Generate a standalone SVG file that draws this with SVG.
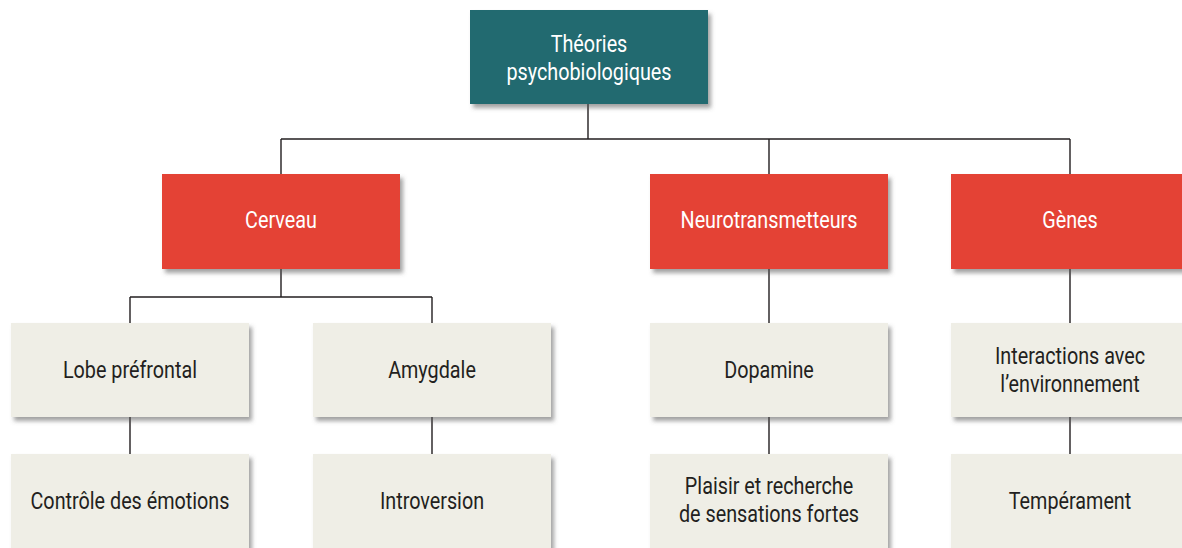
<svg xmlns="http://www.w3.org/2000/svg" width="1182" height="548" viewBox="0 0 1182 548">
  <style>
    .lbl { font-family: "Roboto", "Liberation Sans", sans-serif; font-size: 23px; text-anchor: middle; }
    .light { fill: #ffffff; }
    .dark { fill: #231f20; }
    .root { fill: #226a6f; filter: url(#shadow); }
    .cat { fill: #e44235; filter: url(#shadow); }
    .leaf { fill: #efeee6; filter: url(#shadow); }
    .wire { stroke: #231f20; stroke-width: 1.4; fill: none; }
  </style>
  <defs>
    <filter id="shadow" x="-10%" y="-10%" width="125%" height="130%">
      <feDropShadow dx="3" dy="4" stdDeviation="2" flood-color="#555555" flood-opacity="0.55"/>
    </filter>
  </defs>
  <rect width="1182" height="548" fill="#ffffff"/>

  <g id="connectors">
    <path class="wire" d="M588 104V139M281 139H1070M281 139V174M769 139V174M1070 139V174"/>
    <path class="wire" d="M281 269V297M130 297H432M130 297V323M432 297V323"/>
    <path class="wire" d="M769 269V323M1070 269V323"/>
    <path class="wire" d="M130 417V454M432 417V454M769 417V454M1070 417V454"/>
  </g>

  <!-- labels are set in a condensed width: each text is narrowed about its anchor -->
  <g id="theories">
    <rect class="root" x="470" y="10" width="238" height="94"/>
    <text class="lbl light" transform="translate(589 52) scale(0.86 1)">Théories</text>
    <text class="lbl light" transform="translate(589 80) scale(0.86 1)">psychobiologiques</text>
  </g>

  <g id="cerveau">
    <rect class="cat" x="162" y="174" width="238" height="95"/>
    <text class="lbl light" transform="translate(281 228) scale(0.86 1)">Cerveau</text>
  </g>
  <g id="neurotransmetteurs">
    <rect class="cat" x="650" y="174" width="238" height="95"/>
    <text class="lbl light" transform="translate(769 228) scale(0.86 1)">Neurotransmetteurs</text>
  </g>
  <g id="genes">
    <rect class="cat" x="951" y="174" width="238" height="95"/>
    <text class="lbl light" transform="translate(1070 228) scale(0.86 1)">Gènes</text>
  </g>

  <g id="lobe-prefrontal">
    <rect class="leaf" x="11" y="323" width="238" height="94"/>
    <text class="lbl dark" transform="translate(130 378) scale(0.86 1)">Lobe préfrontal</text>
  </g>
  <g id="amygdale">
    <rect class="leaf" x="313" y="323" width="238" height="94"/>
    <text class="lbl dark" transform="translate(432 378) scale(0.86 1)">Amygdale</text>
  </g>
  <g id="dopamine">
    <rect class="leaf" x="650" y="323" width="238" height="94"/>
    <text class="lbl dark" transform="translate(769 378) scale(0.86 1)">Dopamine</text>
  </g>
  <g id="interactions">
    <rect class="leaf" x="951" y="323" width="238" height="94"/>
    <text class="lbl dark" transform="translate(1070 364) scale(0.86 1)">Interactions avec</text>
    <text class="lbl dark" transform="translate(1070 392) scale(0.86 1)">l’environnement</text>
  </g>

  <g id="controle-emotions">
    <rect class="leaf" x="11" y="454" width="238" height="110"/>
    <text class="lbl dark" transform="translate(130 509) scale(0.86 1)">Contrôle des émotions</text>
  </g>
  <g id="introversion">
    <rect class="leaf" x="313" y="454" width="238" height="110"/>
    <text class="lbl dark" transform="translate(432 509) scale(0.86 1)">Introversion</text>
  </g>
  <g id="plaisir">
    <rect class="leaf" x="650" y="454" width="238" height="110"/>
    <text class="lbl dark" transform="translate(769 494) scale(0.86 1)">Plaisir et recherche</text>
    <text class="lbl dark" transform="translate(769 522) scale(0.86 1)">de sensations fortes</text>
  </g>
  <g id="temperament">
    <rect class="leaf" x="951" y="454" width="238" height="110"/>
    <text class="lbl dark" transform="translate(1070 509) scale(0.86 1)">Tempérament</text>
  </g>
</svg>
